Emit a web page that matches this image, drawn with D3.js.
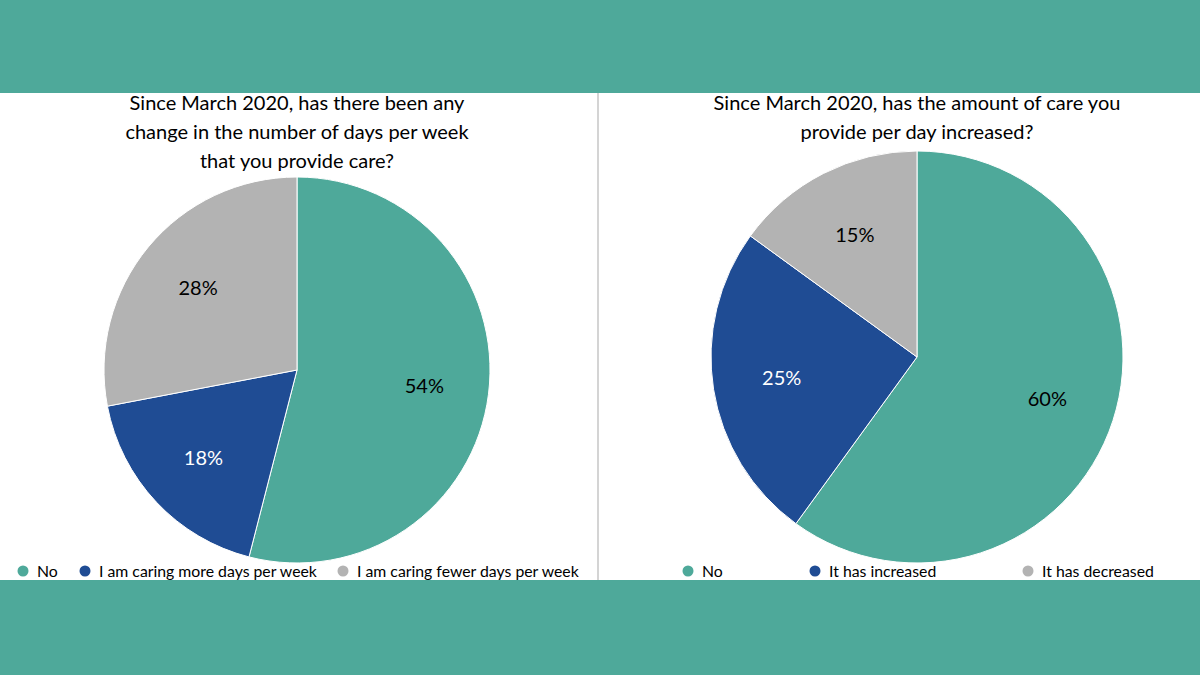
<!DOCTYPE html>
<html><head><meta charset="utf-8">
<script src="https://cdn.jsdelivr.net/npm/d3@7"></script>
<style>
html,body{margin:0;padding:0;background:#fff;}
svg{display:block;font-family:Lato,"Noto Sans",sans-serif;}
</style></head>
<body>
<svg id="c" width="1200" height="675"></svg>
<script>
// Data
const leftTitle = ["Since March 2020, has there been any", "change in the number of days per week", "that you provide care?"];
const leftCategories = ["No", "I am caring more days per week", "I am caring fewer days per week"];
const leftValues = [54, 18, 28];

const rightTitle = ["Since March 2020, has the amount of care you", "provide per day increased?"];
const rightCategories = ["No", "It has increased", "It has decreased"];
const rightValues = [60, 25, 15];

const colors = ["#4EA99A", "#1F4C94", "#B3B3B3"];
const labelColors = ["#000", "#fff", "#000"];

const svg = d3.select("#c");
const W = 1200, H = 675;

// bands
svg.append("rect").attr("x",0).attr("y",0).attr("width",W).attr("height",93).attr("fill","#4EA99A");
svg.append("rect").attr("x",0).attr("y",580).attr("width",W).attr("height",95).attr("fill","#4EA99A");
svg.append("line").attr("x1",598).attr("x2",598).attr("y1",93).attr("y2",580).attr("stroke","#B8B8B8").attr("stroke-width",1.2);

function drawPie(cfg){
  const g = svg.append("g");
  // title
  cfg.title.forEach((t,i)=>{
    g.append("text").attr("x",cfg.tx).attr("y",cfg.ty + i*29)
      .attr("text-anchor","middle").attr("font-size",20).attr("fill","#000").text(t);
  });
  const pie = d3.pie().sort(null).value(d=>d);
  const arcs = pie(cfg.values);
  const arc = d3.arc().innerRadius(0).outerRadius(cfg.r);
  const labelArc = d3.arc().innerRadius(cfg.r*0.665).outerRadius(cfg.r*0.665);
  const pg = g.append("g").attr("transform",`translate(${cfg.cx},${cfg.cy})`);
  pg.selectAll("path").data(arcs).join("path")
    .attr("d",arc).attr("fill",(d,i)=>colors[i])
    .attr("stroke","#fff").attr("stroke-width",1);
  pg.selectAll("text").data(arcs).join("text")
    .attr("transform",d=>`translate(${labelArc.centroid(d)})`)
    .attr("text-anchor","middle").attr("dy","0.35em")
    .attr("font-size",20).attr("fill",(d,i)=>labelColors[i])
    .text(d=>d.data+"%");
  // legend
  const lg = g.append("g");
  cfg.categories.forEach((c,i)=>{
    lg.append("circle").attr("cx",cfg.legendX[i]).attr("cy",571).attr("r",5.5).attr("fill",colors[i]);
    lg.append("text").attr("x",cfg.legendX[i]+14).attr("y",571).attr("dy","0.35em")
      .attr("font-size",15.8).attr("fill","#000").text(c);
  });
}

drawPie({title:leftTitle, tx:297, ty:110, values:leftValues, categories:leftCategories,
  cx:297, cy:370, r:193, legendX:[23,85,343]});
drawPie({title:rightTitle, tx:917, ty:110, values:rightValues, categories:rightCategories,
  cx:917, cy:357, r:206, legendX:[688,815,1028]});
</script>
</body></html>
